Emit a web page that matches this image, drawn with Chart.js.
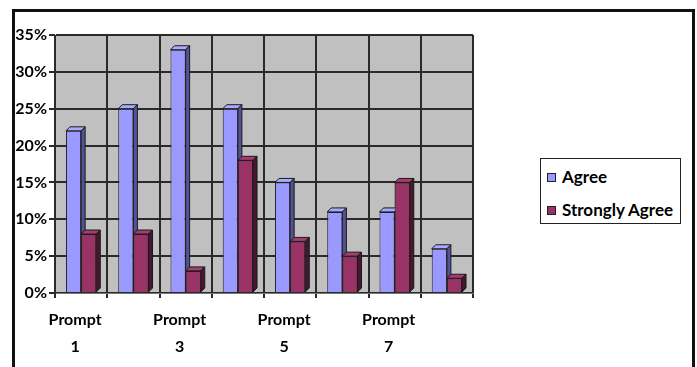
<!DOCTYPE html>
<html lang="en">

<head>
    <meta charset="UTF-8" />
    <title>Prompt agreement</title>
    <script src="https://cdn.jsdelivr.net/npm/chart.js"></script>
    <style>
        body {
            margin: 0;
            background: #fff;
            font-family: Lato, "DejaVu Sans", sans-serif;
        }

        #wrap {
            position: relative;
            width: 697px;
            height: 367px;
            overflow: hidden;
        }

        #wrap canvas {
            position: absolute;
            left: 0;
            top: 0;
        }

        #frame {
            position: absolute;
            left: 12px;
            top: 9px;
            width: 677px;
            height: 420px;
            border: 3px solid #111;
            pointer-events: none;
        }

        #legend {
            position: absolute;
            left: 540px;
            top: 158px;
            width: 139px;
            height: 64px;
            border: 1px solid #222;
            background: #fff;
        }

        #legend .item {
            position: absolute;
            left: 6px;
            height: 20px;
            line-height: 20px;
            display: flex;
            align-items: center;
            font-weight: bold;
            font-size: 17px;
            color: #000;
            white-space: nowrap;
        }

        #legend .key {
            width: 7px;
            height: 7px;
            border: 1px solid #222;
            margin-right: 6px;
        }
    </style>
</head>

<body>
    <div id="wrap">
        <canvas id="promptChart" width="697" height="367"></canvas>
        <div id="frame"></div>
        <div id="legend"></div>
    </div>

    <script>
        // values (percent)
        const categories = ["Prompt 1", "Prompt 2", "Prompt 3", "Prompt 4", "Prompt 5", "Prompt 6", "Prompt 7", "Prompt 8"];
        const seriesNames = ["Agree", "Strongly Agree"];
        const agree = [22, 25, 33, 25, 15, 11, 11, 6];
        const stronglyAgree = [8, 8, 3, 18, 7, 5, 15, 2];
        const yMax = 35;
        const yStep = 5;

        const fronts = ["#9999ff", "#993366"];
        const tops = ["#a9a9ff", "#a63d70"];
        const sides = ["#52529a", "#4a1530"];
        const depth = 4;

        Chart.defaults.font.family = "Lato, 'DejaVu Sans', sans-serif";
        Chart.defaults.font.weight = "bold";
        Chart.defaults.font.size = 16;
        Chart.defaults.color = "#000";

        // grey back wall behind the bars
        const wallPlugin = {
            id: "wall",
            beforeDraw(chart) {
                const a = chart.chartArea;
                const ctx = chart.ctx;
                ctx.save();
                ctx.fillStyle = "#c0c0c0";
                ctx.fillRect(a.left, a.top, a.right - a.left, a.bottom - a.top);
                ctx.restore();
            }
        };

        function face(ctx, pts, fill) {
            ctx.beginPath();
            ctx.moveTo(pts[0][0], pts[0][1]);
            for (let i = 1; i < pts.length; i++) ctx.lineTo(pts[i][0], pts[i][1]);
            ctx.closePath();
            ctx.fillStyle = fill;
            ctx.fill();
            ctx.stroke();
        }

        // fake 3D: top and side faces on each library bar
        const depthPlugin = {
            id: "depth",
            afterDatasetsDraw(chart) {
                const ctx = chart.ctx;
                ctx.save();
                ctx.strokeStyle = "#1a1a1a";
                ctx.lineWidth = 1;
                [0, 1].forEach(di => {
                    chart.getDatasetMeta(di).data.forEach(bar => {
                        if (di === 1) bar.draw(ctx);
                        const p = bar.getProps(["x", "y", "base", "width"], true);
                        const l = p.x - p.width / 2;
                        const r = p.x + p.width / 2;
                        face(ctx, [[l, p.y], [l + depth, p.y - depth], [r + depth, p.y - depth], [r, p.y]], tops[di]);
                        face(ctx, [[r, p.y], [r + depth, p.y - depth], [r + depth, p.base - depth], [r, p.base]], sides[di]);
                    });
                });
                ctx.restore();
            }
        };

        const ctx = document.getElementById("promptChart").getContext("2d");

        new Chart(ctx, {
            type: "bar",
            data: {
                labels: categories,
                datasets: [agree, stronglyAgree].map((vals, i) => ({
                    label: seriesNames[i],
                    data: vals,
                    backgroundColor: fronts[i],
                    borderColor: "#222",
                    borderWidth: 1,
                    categoryPercentage: 0.58,
                    barPercentage: 1
                }))
            },
            options: {
                responsive: false,
                animation: false,
                layout: {
                    padding: { left: 14, top: 35, right: 224, bottom: 15 }
                },
                plugins: {
                    legend: { display: false },
                    tooltip: { enabled: false }
                },
                scales: {
                    x: {
                        grid: { color: "#2a2a2a", lineWidth: 2, tickLength: 5, offset: true },
                        border: { color: "#777" },
                        ticks: {
                            autoSkip: false,
                            maxRotation: 0,
                            labelOffset: -6,
                            padding: 8,
                            font: { size: 16, weight: "bold", lineHeight: 1.7 },
                            callback: (v, i) => i % 2 === 0 ? categories[i].split(" ") : ""
                        },
                        afterFit(s) { s.height = 59; }
                    },
                    y: {
                        min: 0,
                        max: yMax,
                        grid: { color: "#2a2a2a", lineWidth: 2, tickLength: 6 },
                        border: { color: "#2a2a2a" },
                        ticks: {
                            stepSize: yStep,
                            padding: 2,
                            font: { size: 16, weight: "bold" },
                            callback: v => v + "%"
                        },
                        afterFit(s) { s.width = 41; }
                    }
                }
            },
            plugins: [wallPlugin, depthPlugin]
        });

        // legend in a bordered box, as in the picture
        const legend = document.getElementById("legend");
        seriesNames.forEach((name, i) => {
            const item = document.createElement("div");
            item.className = "item";
            item.style.top = (8 + i * 33) + "px";
            const key = document.createElement("span");
            key.className = "key";
            key.style.background = fronts[i];
            item.appendChild(key);
            item.appendChild(document.createTextNode(name));
            legend.appendChild(item);
        });
    </script>

</body>

</html>
